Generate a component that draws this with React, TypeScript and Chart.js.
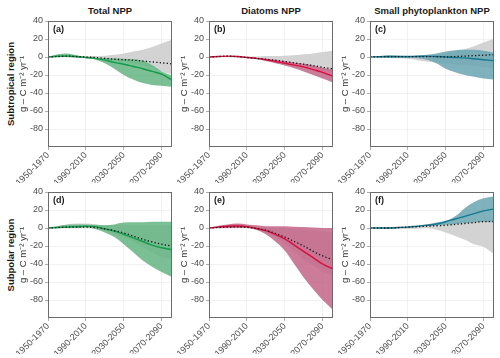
import React, { useEffect, useRef } from "react";
import { Chart, registerables } from "chart.js";
Chart.register(...registerables);

const FONT = "'Liberation Sans', Arial, Helvetica, sans-serif";

const years = [1960, 1970, 1980, 1990, 2000, 2010, 2020, 2030, 2040, 2050, 2060, 2070, 2080, 2090];
const xTickValues = [1960, 2000, 2040, 2080];
const xTickLabels = ["1950-1970", "1990-2010", "2030-2050", "2070-2090"];
const yTickValues = [-80, -60, -40, -20, 0, 20, 40];
const columnTitles = ["Total NPP", "Diatoms NPP", "Small phytoplankton NPP"];
const rowTitles = ["Subtropical region", "Subpolar region"];
const panelLetters = ["(a)", "(b)", "(c)", "(d)", "(e)", "(f)"];
const yAxisTitle = "g – C m⁻² yr⁻¹";

// (a) Total NPP, subtropical
const aLine = [0, 0.8, 1, 0.5, -0.5, -1.5, -3.5, -6, -8, -10.5, -13, -16, -19, -25];
const aUp = [0, 3, 4, 2, 0, -1, -1, -1.5, -2, -2.5, -4, -9, -16, -20];
const aLo = [0, 0, 0, -0.5, -1.5, -3, -7, -13, -20, -25, -29, -31, -32, -33];
const aGreyUp = [0, 1, 1.5, 1.5, 1, 1, 1.5, 2.5, 4, 6, 8, 11, 15, 19];
const aGreyLo = [0, 0, 0, -0.5, -1, -2, -3, -4, -5, -7, -9, -12, -16, -19];
const aDot = [0, 0.5, 1, 0.5, 0, -0.5, -1.5, -2.5, -3, -3.5, -4.5, -5.5, -6.5, -7.5];

// (b) Diatoms NPP, subtropical
const bLine = [0, 0.5, 1, 0.5, -0.5, -1.5, -3, -5, -7, -9, -11, -14, -17, -21];
const bUp = [0, 0.8, 1.2, 0.8, 0, -1, -2, -3, -4.5, -6, -7.5, -9.5, -12, -14];
const bLo = [0, 0.3, 0.7, 0, -1, -2.5, -4.5, -7, -9.5, -12.5, -16, -20, -24, -28];
const bGreyUp = [0, 0.5, 1, 1, 0.5, 0.5, 1, 1, 1.5, 2, 3, 4, 5.5, 7];
const bGreyLo = [0, 0.3, 0.5, 0, -0.5, -1.5, -2.5, -4, -6, -8, -10, -12, -15, -17];
const bDot = [0, 0.5, 1, 0.5, -0.5, -1.5, -2.5, -3.5, -5, -6.5, -8, -9.5, -11.5, -13];

// (c) Small phytoplankton NPP, subtropical
const cLine = [0, 0.3, 0.5, 0.5, 0.5, 0.8, 1, 0.5, 0, -0.5, -1, -2, -3, -4];
const cUp = [0, 1, 2, 1.5, 1, 1.5, 2.5, 4, 6, 7.5, 8, 8, 7, 5];
const cLo = [0, -0.5, -1, -1, -1, -1.5, -3, -7, -13, -17, -20, -22, -24, -25];
const cGreyUp = [0, 0.5, 1, 1, 1, 1, 1, 2, 4, 6, 9, 12, 16, 20];
const cGreyLo = [0, -0.5, -1, -1.5, -2, -3.5, -5, -6, -7, -8, -9, -10, -11, -12];
const cDot = [0, 0.3, 0.5, 0.5, 0.5, 0.5, 0.5, 0.3, 0, 0.5, 1, 1.5, 2, 2.5];

// (d) Total NPP, subpolar
const dLine = [0, 0.5, 1, 1.5, 2, 1.5, -1, -3.5, -7, -11, -15, -19, -22, -24];
const dUp = [0, 2, 3.5, 4, 4, 3.5, 3, 4, 6, 6.5, 6.5, 7, 7, 7];
const dLo = [0, 0, 0, 0, 0.5, -1, -5, -10, -18, -27, -36, -43, -49, -54];
const dGreyUp = [0, 2, 4, 5, 5, 4, 3, 3, 3, 3, 3, 3, 3, 3];
const dGreyLo = [0, 0, 0.5, 0.5, 0.5, -1, -3, -6, -10, -15, -21, -27, -32, -35];
const dDot = [0, 0.5, 1, 1, 1, 0.5, -1, -3, -5.5, -9, -12.5, -15.5, -18, -20];

// (e) Diatoms NPP, subpolar
const eLine = [0, 1, 2, 2.2, 1.5, -0.5, -3, -7, -12, -19, -26, -33, -40, -45];
const eUp = [0, 2.5, 4, 5, 4, 3, 2, 2, 2, 1.5, 1, 0.5, 0, 0];
const eLo = [0, 0, 0, 0, 0, -2, -7, -15, -25, -40, -55, -68, -80, -90];
const eGreyUp = [0, 2, 3.5, 4, 3, 1, 0, 0, 0, -1, -2, -3, -4, -5];
const eGreyLo = [0, 0, 0.5, 0.5, 0, -2, -5, -10, -17, -26, -35, -42, -48, -52];
const eDot = [0, 0.5, 1, 1.2, 0.8, -0.5, -2.5, -6, -10, -15, -20, -26, -31, -35];

// (f) Small phytoplankton NPP, subpolar
const fLine = [0, 0, 0, 0.5, 1, 2, 3, 4.5, 7, 10, 13, 16, 19, 21];
const fUp = [0, 0.3, 0.5, 1, 1.5, 2.5, 4, 6, 8, 13, 22, 29, 33, 35];
const fLo = [0, -0.3, -0.3, 0, 0.5, 1.5, 2.5, 3, 3.5, 4.5, 5.5, 6.5, 7, 7];
const fGreyUp = [0, 0.5, 1, 1.5, 2, 2.5, 3, 4, 5, 6, 7, 8, 9, 10];
const fGreyLo = [0, -0.5, -1, -1, -1, -0.5, 0, -2, -5, -9, -13, -18, -21, -28];
const fDot = [0, 0, 0, 0.5, 1, 1.5, 2, 2.5, 3, 4, 5, 6, 7, 7];

const GREEN = { line: "rgb(18,155,75)", band: "rgba(100,180,130,0.85)" };
const RED = { line: "rgb(222,10,60)", band: "rgba(195,100,135,0.85)" };
const TEAL = { line: "rgb(20,120,145)", band: "rgba(105,165,178,0.85)" };
const GREY_BAND = "rgb(211,211,211)";

type PanelData = {
  line: number[]; up: number[]; lo: number[];
  greyUp: number[]; greyLo: number[]; dot: number[];
  color: { line: string; band: string };
  letter: string;
};

const panels: PanelData[] = [
  { line: aLine, up: aUp, lo: aLo, greyUp: aGreyUp, greyLo: aGreyLo, dot: aDot, color: GREEN, letter: panelLetters[0] },
  { line: bLine, up: bUp, lo: bLo, greyUp: bGreyUp, greyLo: bGreyLo, dot: bDot, color: RED, letter: panelLetters[1] },
  { line: cLine, up: cUp, lo: cLo, greyUp: cGreyUp, greyLo: cGreyLo, dot: cDot, color: TEAL, letter: panelLetters[2] },
  { line: dLine, up: dUp, lo: dLo, greyUp: dGreyUp, greyLo: dGreyLo, dot: dDot, color: GREEN, letter: panelLetters[3] },
  { line: eLine, up: eUp, lo: eLo, greyUp: eGreyUp, greyLo: eGreyLo, dot: eDot, color: RED, letter: panelLetters[4] },
  { line: fLine, up: fUp, lo: fLo, greyUp: fGreyUp, greyLo: fGreyLo, dot: fDot, color: TEAL, letter: panelLetters[5] },
];

const pts = (arr: number[]) => arr.map((v, i) => ({ x: years[i], y: v }));

const PLOT_LEFTS = [48, 209, 370];
const PLOT_TOPS = [21, 192];
const PLOT_W = 124;
const PLOT_H = 126;
const AXIS_W = 46;
const PAD_TOP = 21;
const AXIS_H = 36;
const CANVAS_W = AXIS_W + PLOT_W + 6;
const CANVAS_H = PAD_TOP + PLOT_H + AXIS_H;

function Panel({ data, left, top }: { data: PanelData; left: number; top: number }) {
  const ref = useRef<HTMLCanvasElement | null>(null);
  useEffect(() => {
    if (!ref.current) return;
    const framePlugin = {
      id: "frame",
      afterDraw(chart: any) {
        const { ctx, chartArea } = chart;
        ctx.save();
        ctx.strokeStyle = "#6b6b6b";
        ctx.lineWidth = 1;
        ctx.strokeRect(chartArea.left + 0.5, chartArea.top + 0.5, chartArea.right - chartArea.left - 1, chartArea.bottom - chartArea.top - 1);
        ctx.fillStyle = "#1a1a1a";
        ctx.font = `bold 9px ${FONT}`;
        ctx.textBaseline = "top";
        ctx.fillText(data.letter, chartArea.left + 5, chartArea.top + 4);
        ctx.restore();
      },
    };
    const lineBase = { pointRadius: 0, cubicInterpolationMode: "monotone" as const };
    // Chart.js paints datasets from the last index to the first, so the
    // grey band (last) sits at the back and the dotted line (first) on top.
    const chart = new Chart(ref.current, {
      type: "line",
      data: {
        datasets: [
          { ...lineBase, data: pts(data.dot), borderWidth: 1.3, borderColor: "#111", borderDash: [1.3, 2.2], fill: false },
          { ...lineBase, data: pts(data.line), borderWidth: 1.4, borderColor: data.color.line, fill: false },
          { ...lineBase, data: pts(data.up), borderWidth: 0, borderColor: "transparent", fill: false },
          { ...lineBase, data: pts(data.lo), borderWidth: 0, borderColor: "transparent", backgroundColor: data.color.band, fill: "-1" },
          { ...lineBase, data: pts(data.greyUp), borderWidth: 0, borderColor: "transparent", fill: false },
          { ...lineBase, data: pts(data.greyLo), borderWidth: 0, borderColor: "transparent", backgroundColor: GREY_BAND, fill: "-1" },
        ],
      },
      options: {
        animation: false,
        responsive: false,
        maintainAspectRatio: false,
        events: [],
        layout: { padding: { top: PAD_TOP, right: CANVAS_W - AXIS_W - PLOT_W, left: 0, bottom: 0 } },
        plugins: { legend: { display: false }, tooltip: { enabled: false }, title: { display: false } },
        scales: {
          x: {
            type: "linear",
            min: 1960,
            max: 2091,
            afterBuildTicks: (s: any) => { s.ticks = xTickValues.map((v) => ({ value: v })); },
            afterFit: (s: any) => { s.height = AXIS_H; },
            ticks: {
              autoSkip: false,
              maxRotation: 45,
              minRotation: 45,
              padding: 0,
              color: "#4d4d4d",
              font: { family: FONT, size: 9 },
              callback: (v: any) => {
                const i = xTickValues.indexOf(Number(v));
                return i >= 0 ? xTickLabels[i] : "";
              },
            },
            grid: { color: "#ebebeb", lineWidth: 0.7, tickLength: 3, tickColor: "#8a8a8a" },
            border: { display: false },
          },
          y: {
            min: -100,
            max: 40,
            afterBuildTicks: (s: any) => { s.ticks = yTickValues.map((v) => ({ value: v })); },
            afterFit: (s: any) => { s.width = AXIS_W; },
            ticks: {
              padding: 2,
              color: "#4d4d4d",
              font: { family: FONT, size: 9 },
              callback: (v: any) => String(v),
            },
            grid: { color: "#ebebeb", lineWidth: 0.7, tickLength: 3, tickColor: "#8a8a8a" },
            border: { display: false },
            title: {
              display: true,
              text: yAxisTitle,
              color: "#333",
              font: { family: FONT, size: 9.5 },
              padding: { top: 16, bottom: 0 },
            },
          },
        },
      },
      plugins: [framePlugin],
    } as any);
    return () => chart.destroy();
  }, [data]);
  return (
    <canvas
      ref={ref}
      width={CANVAS_W}
      height={CANVAS_H}
      style={{ position: "absolute", left: left - AXIS_W, top: top - PAD_TOP, width: CANVAS_W, height: CANVAS_H }}
    />
  );
}

export default function App() {
  return (
    <div style={{ position: "absolute", left: 0, top: 0, width: 500, height: 358, background: "#fff", overflow: "hidden", fontFamily: FONT }}>
      {columnTitles.map((t, c) => (
        <div
          key={t}
          style={{
            position: "absolute",
            left: PLOT_LEFTS[c] + PLOT_W / 2,
            top: 10,
            transform: "translate(-50%,-50%)",
            fontWeight: "bold",
            fontSize: 9.5,
            whiteSpace: "nowrap",
            color: "#1a1a1a",
          }}
        >
          {t}
        </div>
      ))}
      {rowTitles.map((t, r) => (
        <div
          key={t}
          style={{
            position: "absolute",
            left: 10,
            top: PLOT_TOPS[r] + PLOT_H / 2,
            transform: "translate(-50%,-50%) rotate(-90deg)",
            fontWeight: "bold",
            fontSize: 9.5,
            whiteSpace: "nowrap",
            color: "#1a1a1a",
          }}
        >
          {t}
        </div>
      ))}
      {panels.map((p, i) => (
        <Panel key={p.letter} data={p} left={PLOT_LEFTS[i % 3]} top={PLOT_TOPS[Math.floor(i / 3)]} />
      ))}
    </div>
  );
}
